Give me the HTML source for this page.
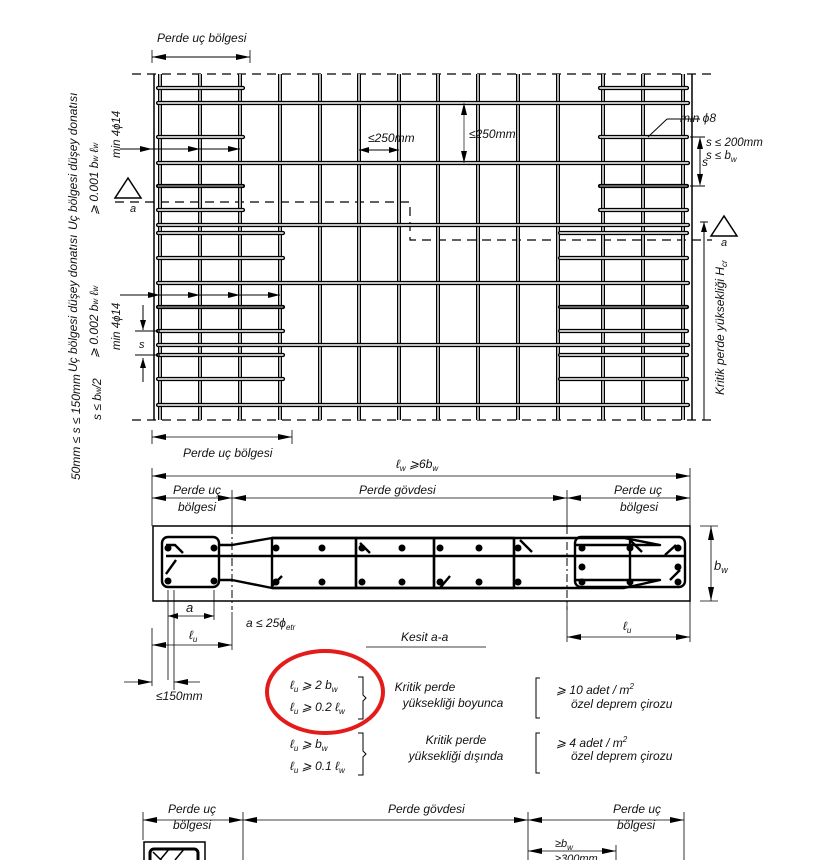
<!DOCTYPE html>
<html><head><meta charset="utf-8"><style>
html,body{margin:0;padding:0;background:#fff}
svg{display:block}
text{font-family:"Liberation Sans",sans-serif;font-style:italic;fill:#111}
</style></head><body>
<svg width="821" height="860" viewBox="0 0 821 860" xmlns="http://www.w3.org/2000/svg">
<defs>
<marker id="ar" viewBox="0 0 10 6" refX="10" refY="3" markerWidth="10" markerHeight="6" orient="auto-start-reverse" markerUnits="userSpaceOnUse"><path d="M0,0L10,3L0,6z" fill="#000"/></marker>
<marker id="ab" viewBox="0 0 14 6" refX="14" refY="3" markerWidth="14" markerHeight="6" orient="auto-start-reverse" markerUnits="userSpaceOnUse"><path d="M0,0L14,3L0,6z" fill="#000"/></marker>
</defs>

<!-- top dimension -->
<line x1="152" y1="50" x2="152" y2="63" stroke="#000" stroke-width="0.8"/>
<line x1="250" y1="50" x2="250" y2="63" stroke="#000" stroke-width="0.8"/>
<line x1="152" y1="57" x2="250" y2="57" stroke="#000" stroke-width="1" marker-start="url(#ab)" marker-end="url(#ab)"/>
<text x="157" y="42" font-size="12">Perde uç bölgesi</text>

<!-- dashed boundaries -->
<g stroke="#000" stroke-width="1.2" stroke-dasharray="9,6" fill="none">
<line x1="132" y1="74" x2="712" y2="74"/>
<line x1="132" y1="420" x2="712" y2="420"/>
<polyline points="115,202 410,202 410,240 712,240"/>
</g>

<!-- vertical bars -->
<g stroke-linecap="butt">
<g stroke="#000" stroke-width="4">
<line x1="160" y1="74" x2="160" y2="420"/><line x1="200" y1="74" x2="200" y2="420"/><line x1="240" y1="74" x2="240" y2="420"/><line x1="280" y1="74" x2="280" y2="420"/><line x1="320" y1="74" x2="320" y2="420"/><line x1="359" y1="74" x2="359" y2="420"/><line x1="399" y1="74" x2="399" y2="420"/><line x1="438" y1="74" x2="438" y2="420"/><line x1="478" y1="74" x2="478" y2="420"/><line x1="518" y1="74" x2="518" y2="420"/><line x1="558" y1="74" x2="558" y2="420"/><line x1="603" y1="74" x2="603" y2="420"/><line x1="643" y1="74" x2="643" y2="420"/><line x1="683" y1="74" x2="683" y2="420"/>
</g>
<g stroke="#fff" stroke-width="1.4">
<line x1="160" y1="74" x2="160" y2="420"/><line x1="200" y1="74" x2="200" y2="420"/><line x1="240" y1="74" x2="240" y2="420"/><line x1="280" y1="74" x2="280" y2="420"/><line x1="320" y1="74" x2="320" y2="420"/><line x1="359" y1="74" x2="359" y2="420"/><line x1="399" y1="74" x2="399" y2="420"/><line x1="438" y1="74" x2="438" y2="420"/><line x1="478" y1="74" x2="478" y2="420"/><line x1="518" y1="74" x2="518" y2="420"/><line x1="558" y1="74" x2="558" y2="420"/><line x1="603" y1="74" x2="603" y2="420"/><line x1="643" y1="74" x2="643" y2="420"/><line x1="683" y1="74" x2="683" y2="420"/>
</g>
<line x1="154" y1="74" x2="154" y2="420" stroke="#000" stroke-width="1.5"/>
<line x1="692" y1="74" x2="692" y2="420" stroke="#000" stroke-width="1.5"/>
</g>

<!-- horizontal bars -->
<g stroke-linecap="round">
<g stroke="#000" stroke-width="4.2">
<line x1="158" y1="103" x2="688" y2="103"/><line x1="158" y1="163" x2="688" y2="163"/><line x1="158" y1="225" x2="688" y2="225"/><line x1="158" y1="283" x2="688" y2="283"/><line x1="158" y1="345" x2="688" y2="345"/><line x1="158" y1="405" x2="688" y2="405"/>
<line x1="158" y1="88" x2="243" y2="88"/><line x1="158" y1="137" x2="243" y2="137"/><line x1="158" y1="186" x2="243" y2="186"/><line x1="158" y1="210" x2="243" y2="210"/>
<line x1="158" y1="233" x2="283" y2="233"/><line x1="158" y1="258" x2="283" y2="258"/><line x1="158" y1="307" x2="283" y2="307"/><line x1="158" y1="331" x2="283" y2="331"/><line x1="158" y1="355" x2="283" y2="355"/><line x1="158" y1="379" x2="283" y2="379"/>
<line x1="600" y1="88" x2="687" y2="88"/><line x1="600" y1="137" x2="687" y2="137"/><line x1="600" y1="186" x2="687" y2="186"/><line x1="600" y1="210" x2="687" y2="210"/>
<line x1="560" y1="233" x2="687" y2="233"/><line x1="560" y1="258" x2="687" y2="258"/><line x1="560" y1="307" x2="687" y2="307"/><line x1="560" y1="331" x2="687" y2="331"/><line x1="560" y1="355" x2="687" y2="355"/><line x1="560" y1="379" x2="687" y2="379"/>
</g>
<g stroke="#fff" stroke-width="1.4">
<line x1="158" y1="103" x2="688" y2="103"/><line x1="158" y1="163" x2="688" y2="163"/><line x1="158" y1="225" x2="688" y2="225"/><line x1="158" y1="283" x2="688" y2="283"/><line x1="158" y1="345" x2="688" y2="345"/><line x1="158" y1="405" x2="688" y2="405"/>
<line x1="158" y1="88" x2="243" y2="88"/><line x1="158" y1="137" x2="243" y2="137"/><line x1="158" y1="210" x2="243" y2="210"/>
<line x1="158" y1="233" x2="283" y2="233"/><line x1="158" y1="258" x2="283" y2="258"/><line x1="158" y1="331" x2="283" y2="331"/><line x1="158" y1="355" x2="283" y2="355"/><line x1="158" y1="379" x2="283" y2="379"/>
<line x1="600" y1="88" x2="687" y2="88"/><line x1="600" y1="137" x2="687" y2="137"/><line x1="600" y1="210" x2="687" y2="210"/>
<line x1="560" y1="233" x2="687" y2="233"/><line x1="560" y1="258" x2="687" y2="258"/><line x1="560" y1="331" x2="687" y2="331"/><line x1="560" y1="355" x2="687" y2="355"/><line x1="560" y1="379" x2="687" y2="379"/>
</g>
<g stroke="#fff" stroke-width="0.8">
<line x1="158" y1="186" x2="243" y2="186"/><line x1="158" y1="307" x2="283" y2="307"/><line x1="600" y1="186" x2="687" y2="186"/><line x1="560" y1="307" x2="687" y2="307"/>
</g>
</g>

<!-- elevation annotations -->
<g stroke="#000" stroke-width="1" fill="none">
<line x1="120" y1="149" x2="240" y2="149"/>
<line x1="120" y1="295" x2="280" y2="295"/>
<line x1="143" y1="305" x2="143" y2="330"/><line x1="143" y1="358" x2="143" y2="382"/>
<line x1="135" y1="331" x2="160" y2="331"/><line x1="135" y1="355" x2="160" y2="355"/>
<line x1="359" y1="150" x2="399" y2="150"/>
<line x1="464" y1="103" x2="464" y2="163" stroke="#555"/>
<polygon points="128,178 115,198 141,198" stroke-width="1.5"/>
<polygon points="724,216 711,236 737,236" stroke-width="1.5"/>
<line x1="648" y1="137" x2="667" y2="119"/><line x1="667" y1="119" x2="700" y2="119"/>
<line x1="690" y1="137" x2="705" y2="137"/><line x1="690" y1="186" x2="705" y2="186"/>
<line x1="700" y1="140" x2="700" y2="183"/>
<line x1="704" y1="222" x2="704" y2="420"/><line x1="700" y1="222" x2="708" y2="222"/>
</g>
<g fill="#000">
<path d="M152,149l-12,-3v6z"/><path d="M200,149l-12,-3v6z"/><path d="M240,149l-12,-3v6z"/>
<path d="M160,295l-12,-3v6z"/><path d="M200,295l-12,-3v6z"/><path d="M240,295l-12,-3v6z"/><path d="M280,295l-12,-3v6z"/>
<path d="M143,330l-3,-10h6z"/><path d="M143,358l-3,10h6z"/>
<path d="M359,150l10,-3v6z"/><path d="M399,150l-10,-3v6z"/>
<path d="M464,103l-3,12h6z"/><path d="M464,163l-3,-12h6z"/>
<path d="M700,137l-3,12h6z"/><path d="M700,186l-3,-12h6z"/>
<path d="M704,222l-3,10h6z"/>
</g>
<text x="368" y="142" font-size="12">≤250mm</text>
<text x="469" y="138" font-size="12">≤250mm</text>
<text x="680" y="122" font-size="12">min ϕ8</text>
<text x="706" y="146" font-size="11.5">s ≤ 200mm</text>
<text x="706" y="159" font-size="11.5">s ≤ b<tspan font-size="8" dy="3">w</tspan></text>
<text x="702" y="166" font-size="12">s</text>
<text x="130" y="212" font-size="11">a</text>
<text x="721" y="246" font-size="11">a</text>
<text x="139" y="348" font-size="11">s</text>
<text transform="translate(724,395) rotate(-90)" font-size="12">Kritik perde yüksekliği H<tspan font-size="8" dy="3">cr</tspan></text>

<!-- left rotated labels -->
<text transform="translate(77,230) rotate(-90)" font-size="12">Uç bölgesi düşey donatısı</text>
<text transform="translate(98,215) rotate(-90)" font-size="12">⩾ 0.001 b<tspan font-size="8">w</tspan> ℓ<tspan font-size="8">w</tspan></text>
<text transform="translate(120,158) rotate(-90)" font-size="11.5">min 4ϕ14</text>
<text transform="translate(77,372) rotate(-90)" font-size="12">Uç bölgesi düşey donatısı</text>
<text transform="translate(98,358) rotate(-90)" font-size="12">⩾ 0.002 b<tspan font-size="8">w</tspan> ℓ<tspan font-size="8">w</tspan></text>
<text transform="translate(120,350) rotate(-90)" font-size="11.5">min 4ϕ14</text>
<text transform="translate(80,480) rotate(-90)" font-size="12">50mm ≤ s ≤ 150mm</text>
<text transform="translate(101,420) rotate(-90)" font-size="12">s ≤ b<tspan font-size="8">w</tspan>/2</text>

<!-- below elevation dim -->
<g stroke="#000" stroke-width="0.8">
<line x1="152" y1="430" x2="152" y2="444"/><line x1="292" y1="430" x2="292" y2="444"/>
<line x1="152" y1="437" x2="292" y2="437" marker-start="url(#ab)" marker-end="url(#ab)"/>
</g>
<text x="183" y="457" font-size="12">Perde uç bölgesi</text>

<!-- section dims -->
<text x="396" y="468" font-size="12">ℓ<tspan font-size="8" dy="3">w</tspan><tspan dy="-3"> ⩾6b</tspan><tspan font-size="8" dy="3">w</tspan></text>
<g stroke="#000" stroke-width="0.8">
<line x1="152" y1="468" x2="152" y2="526"/><line x1="690" y1="468" x2="690" y2="526"/>
<line x1="152" y1="476" x2="690" y2="476" marker-start="url(#ab)" marker-end="url(#ab)"/>
<line x1="232" y1="490" x2="232" y2="526"/><line x1="567" y1="490" x2="567" y2="526"/>
<line x1="152" y1="498" x2="232" y2="498" marker-start="url(#ab)" marker-end="url(#ab)"/>
<line x1="232" y1="498" x2="567" y2="498" marker-start="url(#ab)" marker-end="url(#ab)"/>
<line x1="567" y1="498" x2="690" y2="498" marker-start="url(#ab)" marker-end="url(#ab)"/>
</g>
<text x="173" y="494" font-size="12">Perde uç</text>
<text x="178" y="511" font-size="12">bölgesi</text>
<text x="359" y="494" font-size="12">Perde gövdesi</text>
<text x="614" y="494" font-size="12">Perde uç</text>
<text x="620" y="511" font-size="12">bölgesi</text>

<!-- section -->
<rect x="153" y="526" width="537" height="75" fill="none" stroke="#000" stroke-width="1.5"/>
<g stroke="#000" stroke-width="1" stroke-dasharray="8,3,2,3">
<line x1="232" y1="526" x2="232" y2="610"/><line x1="567" y1="526" x2="567" y2="610"/>
</g>
<g fill="none" stroke="#000" stroke-width="2.4" stroke-linejoin="round">
<rect x="162" y="537" width="57" height="50" rx="6"/>
<rect x="575" y="537" width="110" height="50" rx="6"/>
<path d="M219,545 L232,545 L272,538 L624,538 L660,545 L575,545"/>
<path d="M219,580 L232,580 L272,588 L624,588 L660,580 L575,580"/>
<path d="M166,556 L685,556"/>
<rect x="272" y="538" width="84" height="50"/>
<rect x="356" y="538" width="78" height="50"/>
<rect x="434" y="538" width="80" height="50"/>
<line x1="514" y1="538" x2="514" y2="588"/>
<line x1="630" y1="537" x2="630" y2="587"/>
<path d="M166,545 L175,545 L183,553"/><path d="M166,574 L176,560"/>
<path d="M360,543 L370,553"/><path d="M520,540 L532,552"/><path d="M272,586 L282,576"/><path d="M440,588 L450,576"/>
<path d="M630,540 L642,552"/><path d="M676,545 L665,555"/><path d="M680,570 L670,580"/>
</g>
<g fill="#000">
<circle cx="168" cy="548" r="3.5"/><circle cx="214" cy="548" r="3.5"/><circle cx="168" cy="581" r="3.5"/><circle cx="214" cy="581" r="3.5"/>
<circle cx="276" cy="548" r="3.5"/><circle cx="322" cy="548" r="3.5"/><circle cx="362" cy="548" r="3.5"/><circle cx="402" cy="548" r="3.5"/><circle cx="440" cy="548" r="3.5"/><circle cx="479" cy="548" r="3.5"/><circle cx="518" cy="548" r="3.5"/>
<circle cx="276" cy="582" r="3.5"/><circle cx="322" cy="582" r="3.5"/><circle cx="362" cy="582" r="3.5"/><circle cx="402" cy="582" r="3.5"/><circle cx="440" cy="582" r="3.5"/><circle cx="479" cy="582" r="3.5"/><circle cx="518" cy="582" r="3.5"/>
<circle cx="582" cy="548" r="3.5"/><circle cx="630" cy="548" r="3.5"/><circle cx="678" cy="548" r="3.5"/>
<circle cx="582" cy="567" r="3.5"/><circle cx="678" cy="567" r="3.5"/>
<circle cx="582" cy="582" r="3.5"/><circle cx="630" cy="582" r="3.5"/><circle cx="678" cy="582" r="3.5"/>
</g>
<g stroke="#000" stroke-width="0.8">
<line x1="700" y1="526" x2="718" y2="526"/><line x1="700" y1="601" x2="718" y2="601"/>
<line x1="711" y1="526" x2="711" y2="601" marker-start="url(#ab)" marker-end="url(#ab)"/>
<line x1="168" y1="590" x2="168" y2="680"/><line x1="174" y1="590" x2="174" y2="690"/><line x1="214" y1="590" x2="214" y2="620"/>
<line x1="168" y1="616" x2="214" y2="616" marker-start="url(#ar)" marker-end="url(#ar)"/>
<line x1="152" y1="628" x2="152" y2="686"/><line x1="232" y1="612" x2="232" y2="650"/>
<line x1="152" y1="645" x2="232" y2="645" marker-start="url(#ab)" marker-end="url(#ab)"/>
<line x1="567" y1="601" x2="567" y2="642"/><line x1="690" y1="601" x2="690" y2="642"/>
<line x1="567" y1="637" x2="690" y2="637" marker-start="url(#ab)" marker-end="url(#ab)"/>
<line x1="124" y1="682" x2="152" y2="682" marker-end="url(#ab)"/>
<line x1="200" y1="682" x2="174" y2="682" marker-end="url(#ab)"/>
<line x1="366" y1="647" x2="486" y2="647"/>
</g>
<text x="714" y="570" font-size="13">b<tspan font-size="9" dy="3">w</tspan></text>
<text x="186" y="612" font-size="13">a</text>
<text x="246" y="627" font-size="12">a ≤ 25ϕ<tspan font-size="8" dy="3">etr</tspan></text>
<text x="189" y="639" font-size="12">ℓ<tspan font-size="8" dy="3">u</tspan></text>
<text x="623" y="630" font-size="12">ℓ<tspan font-size="8" dy="3">u</tspan></text>
<text x="401" y="641" font-size="12">Kesit a-a</text>
<text x="156" y="700" font-size="12">≤150mm</text>

<!-- rules -->
<text x="290" y="689" font-size="12">ℓ<tspan font-size="8" dy="3">u</tspan><tspan dy="-3"> ⩾ 2 b</tspan><tspan font-size="8" dy="3">w</tspan></text>
<text x="290" y="711" font-size="12">ℓ<tspan font-size="8" dy="3">u</tspan><tspan dy="-3"> ⩾ 0.2 ℓ</tspan><tspan font-size="8" dy="3">w</tspan></text>
<path d="M358,677 h5 v18 l3,3 l-3,3 v18 h-5" fill="none" stroke="#000" stroke-width="1"/>
<text x="425" y="691" font-size="12" text-anchor="middle">Kritik perde</text>
<text x="453" y="707" font-size="12" text-anchor="middle">yüksekliği boyunca</text>
<path d="M540,678 h-4 v40 h4" fill="none" stroke="#000" stroke-width="1"/>
<text x="556" y="694" font-size="12">⩾ 10 adet / m<tspan font-size="8" dy="-5">2</tspan></text>
<text x="571" y="708" font-size="12">özel deprem çirozu</text>

<ellipse cx="325" cy="692" rx="58" ry="41" fill="none" stroke="#e41b1b" stroke-width="4"/>

<text x="290" y="748" font-size="12">ℓ<tspan font-size="8" dy="3">u</tspan><tspan dy="-3"> ⩾ b</tspan><tspan font-size="8" dy="3">w</tspan></text>
<text x="290" y="770" font-size="12">ℓ<tspan font-size="8" dy="3">u</tspan><tspan dy="-3"> ⩾ 0.1 ℓ</tspan><tspan font-size="8" dy="3">w</tspan></text>
<path d="M358,733 h5 v18 l3,3 l-3,3 v18 h-5" fill="none" stroke="#000" stroke-width="1"/>
<text x="456" y="744" font-size="12" text-anchor="middle">Kritik perde</text>
<text x="456" y="760" font-size="12" text-anchor="middle">yüksekliği dışında</text>
<path d="M540,733 h-4 v40 h4" fill="none" stroke="#000" stroke-width="1"/>
<text x="556" y="747" font-size="12">⩾ 4 adet / m<tspan font-size="8" dy="-5">2</tspan></text>
<text x="571" y="760" font-size="12">özel deprem çirozu</text>

<!-- bottom partial -->
<g stroke="#000" stroke-width="0.8">
<line x1="143" y1="812" x2="143" y2="840"/><line x1="243" y1="812" x2="243" y2="860"/><line x1="528" y1="812" x2="528" y2="860"/><line x1="684" y1="812" x2="684" y2="860"/>
<line x1="143" y1="820" x2="243" y2="820" marker-start="url(#ab)" marker-end="url(#ab)"/>
<line x1="243" y1="820" x2="528" y2="820" marker-start="url(#ab)" marker-end="url(#ab)"/>
<line x1="528" y1="820" x2="684" y2="820" marker-start="url(#ab)" marker-end="url(#ab)"/>
<line x1="528" y1="851" x2="616" y2="851" marker-start="url(#ab)" marker-end="url(#ab)"/>
<line x1="616" y1="845" x2="616" y2="860"/>
</g>
<text x="168" y="813" font-size="12">Perde uç</text>
<text x="173" y="829" font-size="12">bölgesi</text>
<text x="388" y="813" font-size="12">Perde gövdesi</text>
<text x="613" y="813" font-size="12">Perde uç</text>
<text x="617" y="829" font-size="12">bölgesi</text>
<text x="555" y="847" font-size="11">≥b<tspan font-size="8" dy="3">w</tspan></text>
<text x="555" y="862" font-size="11">≥300mm</text>
<rect x="144" y="842" width="61" height="22" fill="none" stroke="#000" stroke-width="1.5"/>
<rect x="150" y="849" width="48" height="16" rx="4" fill="none" stroke="#000" stroke-width="3"/>
<path d="M153,852 L163,862 M170,848 L160,860 M185,848 L175,860" stroke="#000" stroke-width="1.5"/>
</svg>
</body></html>
